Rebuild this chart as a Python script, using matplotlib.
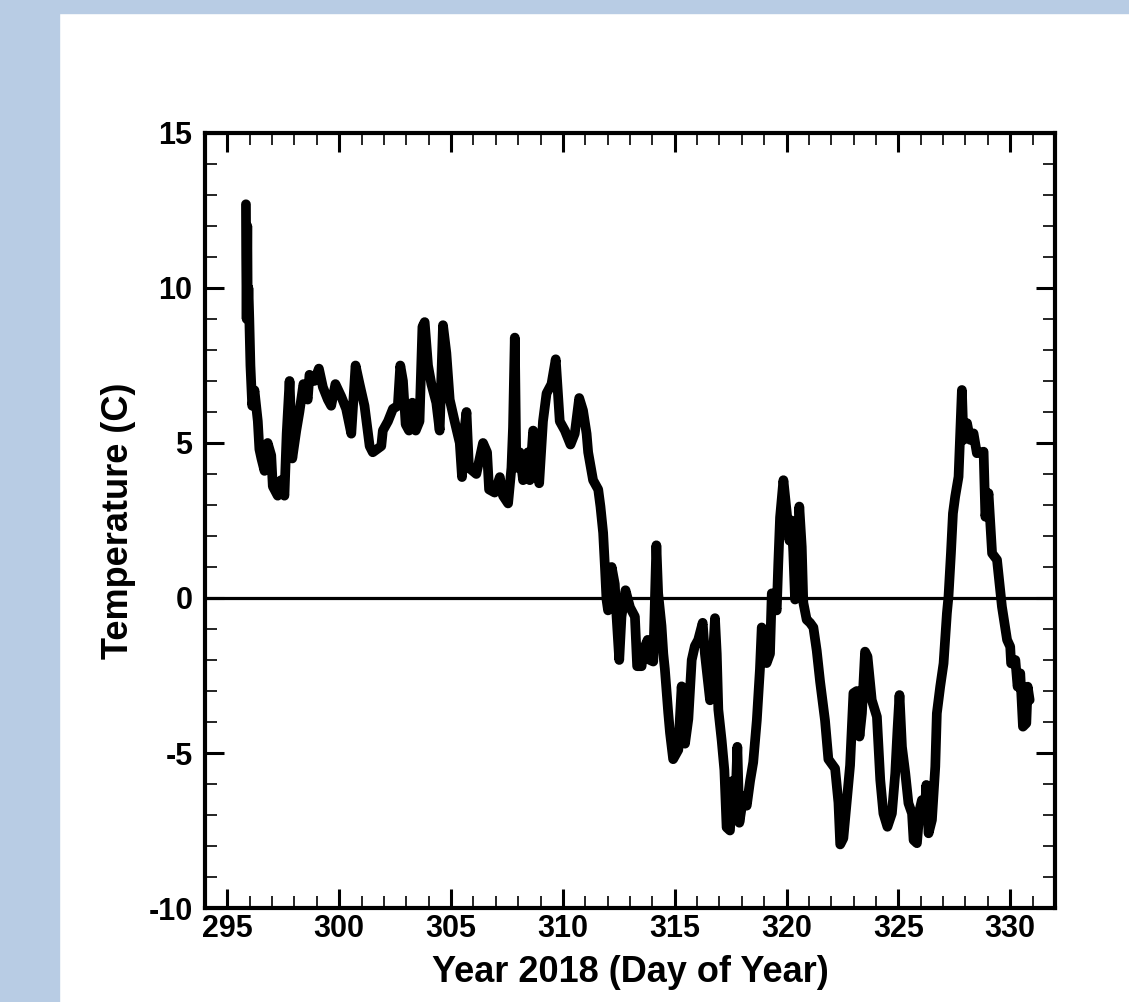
import matplotlib
matplotlib.use("Agg")
import matplotlib.pyplot as plt
from matplotlib.patches import Rectangle
from matplotlib.ticker import MultipleLocator

plt.rcParams['axes.unicode_minus'] = False

# Day of year 2018 and temperature (C)
day = [295.83, 295.84, 295.86, 295.89, 295.91, 295.94, 295.98, 296.03, 296.11, 296.21,
       296.36, 296.43, 296.52, 296.66, 296.80, 296.96, 297.03, 297.25, 297.40, 297.55,
       297.65, 297.78, 297.90, 298.08, 298.22, 298.40, 298.59, 298.67, 298.89, 299.09,
       299.27, 299.49, 299.64, 299.83, 300.09, 300.31, 300.54, 300.73, 300.91, 301.13,
       301.36, 301.50, 301.88, 301.95, 302.18, 302.40, 302.62, 302.73, 302.85, 302.97,
       303.12, 303.27, 303.42, 303.59, 303.72, 303.82, 303.97, 304.12, 304.34, 304.49,
       304.64, 304.79, 304.94, 305.16, 305.39, 305.49, 305.61, 305.69, 305.80, 306.13,
       306.43, 306.61, 306.70, 306.95, 307.18, 307.32, 307.55, 307.70, 307.77, 307.85,
       307.92, 308.07, 308.22, 308.44, 308.52, 308.67, 308.82, 308.94, 309.11, 309.27,
       309.49, 309.68, 309.86, 310.09, 310.34, 310.53, 310.73, 310.90, 311.06, 311.13,
       311.35, 311.58, 311.68, 311.80, 311.88, 311.95, 312.02, 312.18, 312.32, 312.40,
       312.52, 312.62, 312.80, 313.00, 313.22, 313.32, 313.52, 313.59, 313.79, 313.89,
       314.04, 314.18, 314.26, 314.41, 314.49, 314.56, 314.71, 314.79, 314.93, 315.16,
       315.23, 315.31, 315.46, 315.61, 315.76, 315.90, 316.05, 316.25, 316.35, 316.58,
       316.70, 316.80, 316.88, 316.95, 317.10, 317.22, 317.32, 317.47, 317.59, 317.70,
       317.80, 317.89, 318.07, 318.22, 318.37, 318.51, 318.67, 318.81, 318.89, 319.04,
       319.11, 319.26, 319.34, 319.56, 319.63, 319.71, 319.86, 320.01, 320.13, 320.23,
       320.30, 320.38, 320.46, 320.57, 320.68, 320.75, 320.90, 321.05, 321.20, 321.35,
       321.50, 321.72, 321.87, 322.17, 322.32, 322.40, 322.54, 322.70, 322.84, 322.99,
       323.14, 323.26, 323.37, 323.51, 323.62, 323.81, 324.04, 324.19, 324.33, 324.51,
       324.71, 324.86, 324.96, 325.05, 325.16, 325.31, 325.45, 325.61, 325.68, 325.83,
       325.95, 326.05, 326.16, 326.25, 326.35, 326.50, 326.65, 326.72, 326.87, 327.02,
       327.17, 327.24, 327.35, 327.44, 327.54, 327.69, 327.84, 327.91, 328.07, 328.21,
       328.36, 328.51, 328.81, 328.89, 329.03, 329.19, 329.41, 329.63, 329.86, 330.00,
       330.04, 330.23, 330.33, 330.45, 330.57, 330.72, 330.78, 330.87]

temp = [12.7, 11.0, 9.0, 12.0, 9.2, 10.0, 9.0, 7.5, 6.2, 6.7,
        5.7, 4.8, 4.5, 4.1, 5.0, 4.6, 3.6, 3.3, 3.8, 3.3,
        5.3, 7.0, 4.5, 5.4, 6.0, 6.9, 6.4, 7.2, 7.0, 7.4,
        6.8, 6.4, 6.2, 6.9, 6.5, 6.1, 5.3, 7.5, 6.9, 6.2,
        4.9, 4.7, 4.9, 5.4, 5.7, 6.1, 6.2, 7.5, 7.0, 5.6,
        5.4, 6.3, 5.4, 5.7, 8.75, 8.9, 7.5, 6.9, 6.3, 5.4,
        8.8, 7.9, 6.4, 5.7, 5.0, 3.9, 5.5, 6.0, 4.2, 4.0,
        5.0, 4.7, 3.5, 3.4, 3.9, 3.3, 3.05, 4.2, 5.5, 8.4,
        4.2, 4.7, 3.8, 4.7, 3.8, 5.4, 5.1, 3.7, 5.7, 6.6,
        6.9, 7.7, 5.7, 5.4, 4.95, 5.3, 6.45, 6.05, 5.3, 4.7,
        3.8, 3.5, 2.95, 2.1, 1.0, -0.05, -0.4, 1.0, 0.45, -0.6,
        -2.0, -0.6, 0.25, -0.3, -0.6, -2.2, -2.2, -1.7, -1.35, -2.0,
        -2.05, 1.7, 0.15, -0.9, -1.8, -2.3, -3.7, -4.35, -5.2, -4.9,
        -3.9, -2.85, -4.7, -3.9, -2.0, -1.55, -1.35, -0.8, -1.8, -3.3,
        -2.0, -0.65, -1.8, -3.6, -4.6, -5.55, -7.4, -7.5, -5.9, -6.95,
        -4.8, -7.25, -6.4, -6.7, -5.9, -5.3, -3.95, -2.3, -0.95, -1.25,
        -2.1, -1.8, 0.15, -0.4, 1.1, 2.6, 3.8, 2.75, 1.85, 2.5,
        1.5, -0.05, 0.6, 2.95, 1.65, -0.15, -0.7, -0.8, -0.95, -1.7,
        -2.7, -3.95, -5.2, -5.5, -6.6, -7.95, -7.75, -6.5, -5.4, -3.07,
        -3.0, -4.47, -3.72, -1.73, -1.89, -3.29, -3.83, -5.87, -6.95, -7.38,
        -6.95, -5.66, -4.26, -3.13, -4.80, -5.66, -6.62, -6.95, -7.81, -7.91,
        -6.84, -6.52, -7.16, -6.03, -7.59, -7.16, -5.44, -3.72, -2.86, -2.11,
        -0.49, 0.04, 1.44, 2.73, 3.27, 3.91, 6.71, 5.10, 5.64, 5.10,
        5.31, 4.67, 4.72, 2.62, 3.38, 1.44, 1.23, -0.28, -1.35, -1.57,
        -2.11, -2.0, -2.86, -2.43, -4.15, -4.04, -2.86, -3.29]

x_ticks = [295, 300, 305, 310, 315, 320, 325, 330]
y_ticks = [-10, -5, 0, 5, 10, 15]

fig = plt.figure(figsize=(11.29, 10.02), dpi=100, facecolor="white")

# light blue frame strips (top and left)
fig.patches.append(Rectangle((0, 1 - 13 / 1002), 1, 13 / 1002, transform=fig.transFigure,
                             color="#b8cce4", zorder=0))
fig.patches.append(Rectangle((0, 0), 59 / 1129, 1, transform=fig.transFigure,
                             color="#b8cce4", zorder=0))

ax = fig.add_axes([0.1816, 0.0938, 0.7528, 0.7735])
ax.plot(day, temp, color="black", lw=7, solid_joinstyle="round", solid_capstyle="round", zorder=3)
ax.axhline(0, color="black", lw=2.3, zorder=2)

ax.set_xlim(294, 332)
ax.set_ylim(-10, 15)
ax.set_xticks(x_ticks)
ax.set_yticks(y_ticks)
ax.xaxis.set_minor_locator(MultipleLocator(1))
ax.yaxis.set_minor_locator(MultipleLocator(1))

font = "Liberation Sans"
ax.tick_params(which="both", direction="in", top=True, right=True)
ax.tick_params(which="major", length=14, width=2.2)
ax.tick_params(which="minor", length=8.5, width=1.2)
ax.tick_params(axis="x", which="major", pad=4)
ax.tick_params(axis="y", which="major", pad=9)
for lab in ax.get_xticklabels() + ax.get_yticklabels():
    lab.set_fontfamily(font)
    lab.set_fontweight("bold")
    lab.set_fontsize(22)
for s in ax.spines.values():
    s.set_linewidth(3)

ax.set_xlabel("Year 2018 (Day of Year)", fontfamily=font, fontweight="bold", fontsize=26, labelpad=8)
ax.set_ylabel("Temperature (C)", fontfamily=font, fontweight="bold", fontsize=26, labelpad=9)

fig.savefig("out.png", dpi=100, facecolor="white")
